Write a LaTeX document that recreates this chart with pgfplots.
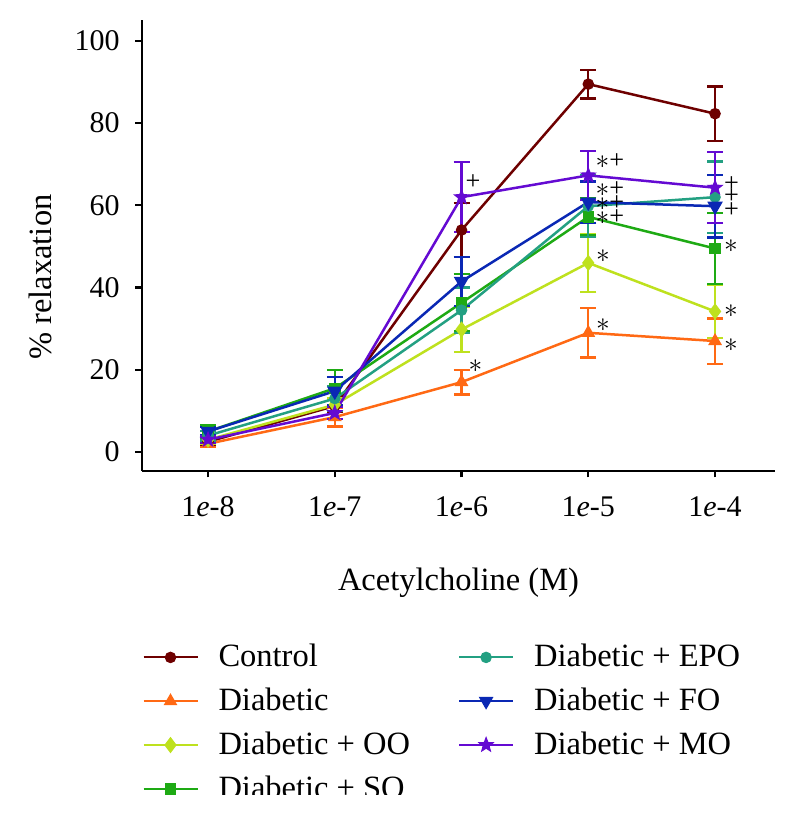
\documentclass[border=0pt]{standalone}
\usepackage{fontspec}
\setmainfont{Liberation Serif}
\usepackage{pgfplots}
\pgfplotsset{compat=1.18}
\usepackage{pgfplotstable}

\definecolor{cCtrl}{RGB}{110,0,0}
\definecolor{cDiab}{RGB}{255,105,20}
\definecolor{cOO}{RGB}{190,225,30}
\definecolor{cSO}{RGB}{30,170,20}
\definecolor{cEPO}{RGB}{35,160,130}
\definecolor{cFO}{RGB}{10,40,180}
\definecolor{cMO}{RGB}{100,10,210}

\pgfdeclareplotmark{fstar}{%
  \pgfpathmoveto{\pgfpointpolar{90}{\pgfplotmarksize}}%
  \pgfpathlineto{\pgfpointpolar{126}{0.42*\pgfplotmarksize}}%
  \pgfpathlineto{\pgfpointpolar{162}{\pgfplotmarksize}}%
  \pgfpathlineto{\pgfpointpolar{198}{0.42*\pgfplotmarksize}}%
  \pgfpathlineto{\pgfpointpolar{234}{\pgfplotmarksize}}%
  \pgfpathlineto{\pgfpointpolar{270}{0.42*\pgfplotmarksize}}%
  \pgfpathlineto{\pgfpointpolar{306}{\pgfplotmarksize}}%
  \pgfpathlineto{\pgfpointpolar{342}{0.42*\pgfplotmarksize}}%
  \pgfpathlineto{\pgfpointpolar{18}{\pgfplotmarksize}}%
  \pgfpathlineto{\pgfpointpolar{54}{0.42*\pgfplotmarksize}}%
  \pgfpathclose
  \pgfusepathqfillstroke}

\pgfplotstableread{
x y e
0 2.5 0.8
1 11.2 1.5
2 54.0 6.5
3 89.5 3.5
4 82.3 6.6
}\tCtrl
\pgfplotstableread{
x y e
0 2.0 0.8
1 8.5 2.3
2 17.0 3.0
3 29.0 6.0
4 27.0 5.5
}\tDiab
\pgfplotstableread{
x y e
0 3.0 1.0
1 11.5 1.5
2 29.8 5.5
3 46.0 7.0
4 34.2 6.5
}\tOO
\pgfplotstableread{
x y e
0 5.0 1.5
1 15.5 4.5
2 36.3 7.0
3 57.2 4.5
4 49.5 8.7
}\tSO
\pgfplotstableread{
x y e
0 4.0 1.2
1 13.0 3.0
2 34.5 5.5
3 59.8 7.5
4 62.0 8.7
}\tEPO
\pgfplotstableread{
x y e
0 5.0 1.0
1 14.8 3.5
2 41.5 6.0
3 60.8 5.0
4 59.8 7.6
}\tFO
\pgfplotstableread{
x y e
0 3.0 0.8
1 9.5 1.5
2 62.0 8.5
3 67.3 6.0
4 64.3 8.6
}\tMO

\pgfplotsset{
  base/.style={line width=1pt, solid, mark options={solid, line width=0.6pt}},
  sCtrl/.style={base, color=cCtrl, mark=*, mark size=2pt},
  sDiab/.style={base, color=cDiab, mark=triangle*, mark size=2.6pt},
  sOO/.style={base, color=cOO, mark=diamond*, mark size=2.8pt},
  sSO/.style={base, color=cSO, mark=square*, mark size=2pt},
  sEPO/.style={base, color=cEPO, mark=*, mark size=2pt},
  sFO/.style={base, color=cFO, mark=triangle*, mark size=2.6pt, mark options={rotate=180}},
  sMO/.style={base, color=cMO, mark=fstar, mark size=3pt, mark options={line width=0.4pt}},
  eb/.style={error bars/.cd, y dir=both, y explicit, error mark=|,
    error bar style={line width=0.9pt},
    error mark options={mark size=3.2pt, line width=0.9pt}, /pgfplots/.cd},
}

\begin{document}
\begin{tikzpicture}
\begin{axis}[
  scale only axis, width=253.2pt, height=180.4pt,
  xmin=-0.521, xmax=4.473, ymin=-4.62, ymax=105.1,
  axis x line*=bottom, axis y line*=left,
  axis line style={line width=0.9pt, -},
  tick align=outside, major tick length=2.6pt,
  tick style={line width=0.9pt, black},
  xtick={0,1,2,3,4},
  xticklabels={1\textit{e}-8,1\textit{e}-7,1\textit{e}-6,1\textit{e}-5,1\textit{e}-4},
  ytick={0,20,40,60,80,100},
  /pgf/number format/assume math mode=true,
  ticklabel style={font=\fontsize{12}{14}\selectfont},
  yticklabel style={xshift=-2.8pt},
  xticklabel style={yshift=-4pt},
  xlabel={Acetylcholine (M)},
  ylabel={\% relaxation},
  label style={font=\fontsize{13}{15}\selectfont},
  xlabel style={at={(axis description cs:0.5,-0.248)}, anchor=center},
  ylabel style={at={(axis description cs:-0.161,0.43)}, anchor=center},
  clip=false,
  legend columns=2,
  legend cell align=left,
  legend style={at={(axis description cs:0,-0.372)}, anchor=north west,
    draw=none, fill=none, inner sep=0pt,
    font=\fontsize{13}{15}\selectfont,
    row sep=3pt,
    /tikz/every odd column/.style={column sep=6pt},
    /tikz/every even column/.style={column sep=17.2pt}},
  legend image code/.code={\draw[mark repeat=2, mark phase=2, line width=0.8pt]
    plot coordinates {(0pt,0pt) (10.8pt,0pt) (21.6pt,0pt)};},
]
\addplot[forget plot, sCtrl, eb] table[x=x, y=y, y error=e] {\tCtrl};
\addplot[forget plot, sDiab, eb] table[x=x, y=y, y error=e] {\tDiab};
\addplot[forget plot, sOO, eb] table[x=x, y=y, y error=e] {\tOO};
\addplot[forget plot, sSO, eb] table[x=x, y=y, y error=e] {\tSO};
\addplot[forget plot, sEPO, eb] table[x=x, y=y, y error=e] {\tEPO};
\addplot[forget plot, sFO, eb] table[x=x, y=y, y error=e] {\tFO};
\addplot[forget plot, sMO, eb] table[x=x, y=y, y error=e] {\tMO};

\addlegendimage{sCtrl}\addlegendentry{Control}
\addlegendimage{sEPO}\addlegendentry{Diabetic + EPO}
\addlegendimage{sDiab}\addlegendentry{Diabetic}
\addlegendimage{sFO}\addlegendentry{Diabetic + FO}
\addlegendimage{sOO}\addlegendentry{Diabetic + OO}
\addlegendimage{sMO}\addlegendentry{Diabetic + MO}
\addlegendimage{sSO}\addlegendentry{Diabetic + SO}

\begin{scope}[every node/.style={font=\fontsize{10.5}{10.5}\selectfont, inner sep=0pt, text height=1.4ex, text depth=0pt}]
\node at (axis cs:2.09,65.8) {+};
\node at (axis cs:2.11,21.2) {$\ast$};
\node at (axis cs:3.17,71.0) {$\ast$+};
\node at (axis cs:3.17,64.2) {$\ast$+};
\node at (axis cs:3.17,60.8) {$\ast$+};
\node at (axis cs:3.17,57.3) {$\ast$+};
\node at (axis cs:3.115,48.1) {$\ast$};
\node at (axis cs:3.115,31.3) {$\ast$};
\node at (axis cs:4.13,65.4) {+};
\node at (axis cs:4.13,62.3) {+};
\node at (axis cs:4.13,59.1) {+};
\node at (axis cs:4.125,50.4) {$\ast$};
\node at (axis cs:4.125,34.7) {$\ast$};
\node at (axis cs:4.125,26.3) {$\ast$};
\end{scope}

\coordinate (TL) at (rel axis cs:0,1);
\coordinate (BR) at (rel axis cs:1,0);
\coordinate (BL) at (rel axis cs:0,0);
\end{axis}
\fill[white] ([shift={(-60pt,-129.4pt)}]BL) rectangle ([shift={(10pt,-140pt)}]BR);
\pgfresetboundingbox
\path[use as bounding box] ([shift={(-56.8pt,8pt)}]TL) rectangle ([shift={(8.4pt,-136.8pt)}]BR);
\end{tikzpicture}
\end{document}
